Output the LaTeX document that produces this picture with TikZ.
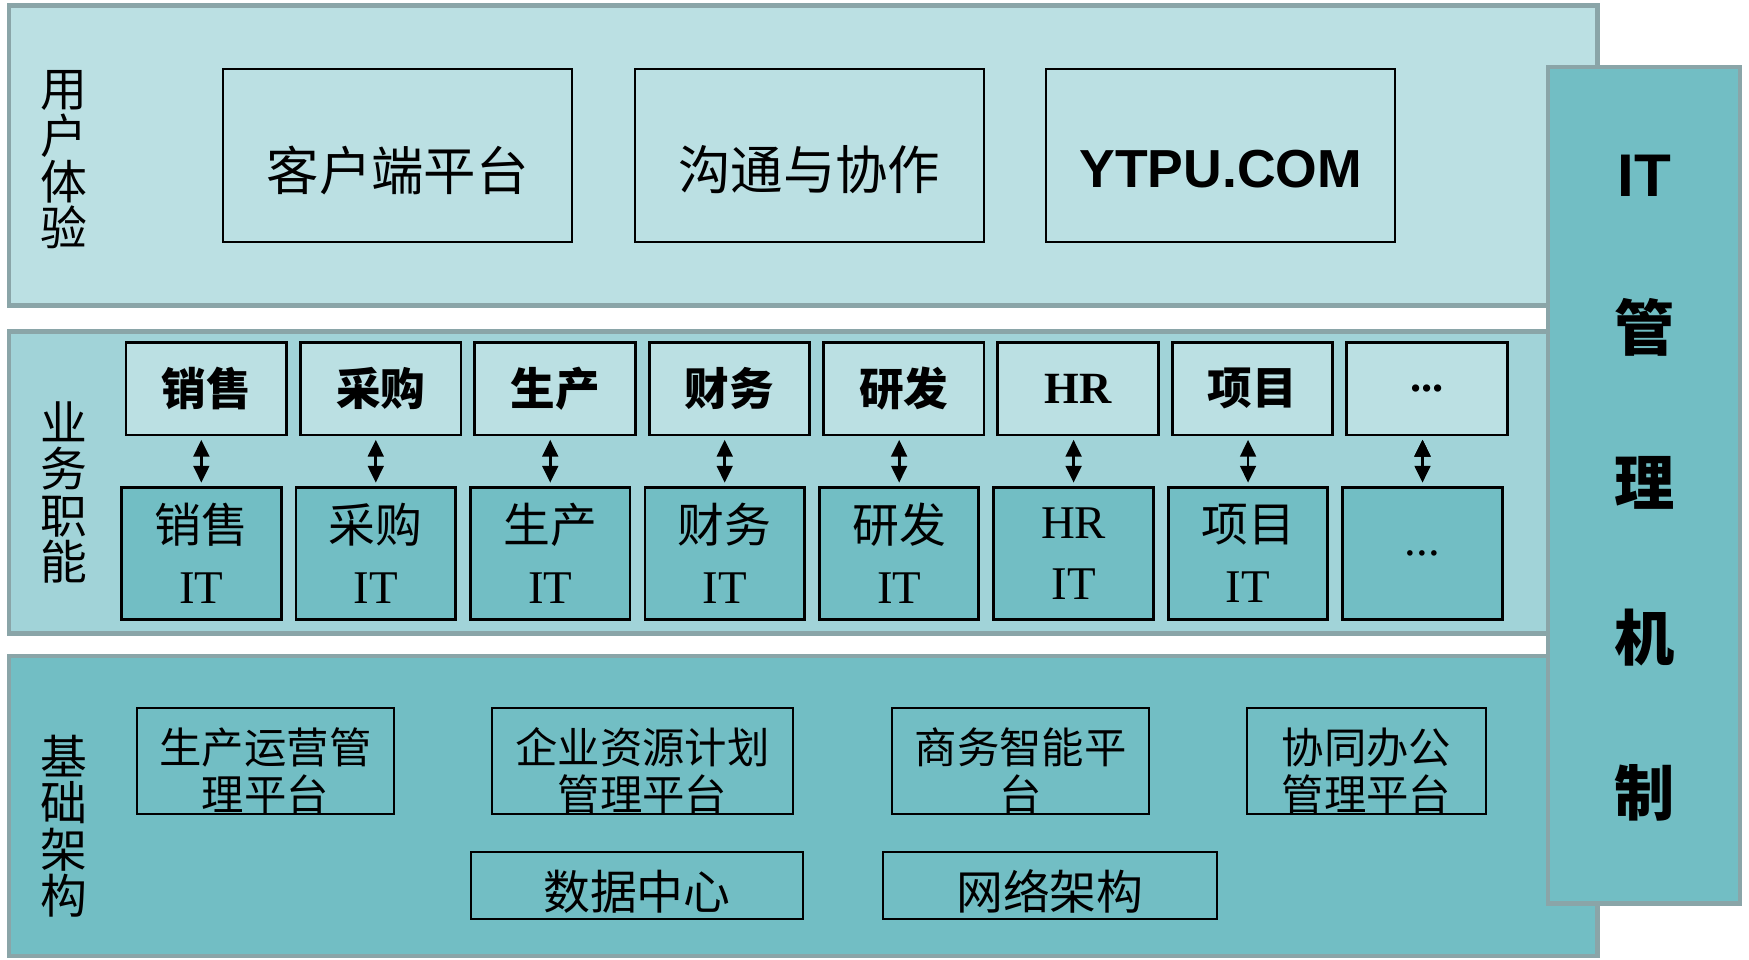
\documentclass[tikz,border=0pt]{standalone}
\usepackage{fontspec}
\setmainfont{Liberation Serif}
\setsansfont{Liberation Sans}
\newfontfamily\cjk{Noto Sans CJK SC}
\usetikzlibrary{positioning, arrows.meta}
\definecolor{palecyan}{HTML}{BBE0E3}
\definecolor{midcyan}{HTML}{A1D3D8}
\definecolor{deepcyan}{HTML}{72BEC4}
\definecolor{framegray}{HTML}{8AA5A8}
\tikzset{
x=0.5pt, y=-0.5pt, % one unit is one pixel of the sketch, y runs downwards
>={Triangle[length=7.5pt, width=7pt]}, % solid arrow heads
band/.style={draw=framegray, line width=2pt, minimum width=712pt}, % the three layers and the side panel
bandlabel/.style={font=\cjk\fontsize{21}{20.8}\selectfont, align=center, inner sep=0pt}, % vertical layer names
portal/.style={draw=black, line width=0.9pt, minimum width=156.5pt, minimum height=77.5pt}, % boxes of the top layer
portaltext/.style={font=\cjk\fontsize{23.5}{26}\selectfont, inner sep=0pt},
func/.style={draw=black, line width=1.3pt, fill=palecyan, minimum width=72pt, minimum height=41.5pt, font=\cjk\bfseries\fontsize{20}{22}\selectfont}, % business functions
funcit/.style={draw=black, line width=1.3pt, fill=deepcyan, minimum width=71.5pt, minimum height=59pt, align=center, inner sep=0pt, font=\cjk\fontsize{21}{27.3}\selectfont}, % their IT
link/.style={<->, line width=1.2pt, shorten <=1.5pt, shorten >=1.5pt},
infrabox/.style={draw=black, line width=0.9pt, minimum height=47.5pt}, % infrastructure platforms
infratext/.style={font=\cjk\fontsize{19}{21}\selectfont, align=center, inner sep=0pt},
paneltext/.style={font=\cjk\bfseries\fontsize{27}{69.4}\selectfont, align=center, inner sep=0pt},
}
\begin{document}
\begin{tikzpicture}
\useasboundingbox (0,0) rectangle (1568,860);
% layers
\node[band, fill=palecyan, minimum height=134.5pt] (ux) at (720,139.5) {};
\node[band, fill=midcyan, minimum height=135.5pt] (biz) at (720,432.5) {};
\node[band, fill=deepcyan, minimum height=134.5pt] (infra) at (720,722.5) {};
\node[band, fill=deepcyan, minimum width=86pt, minimum height=375pt] (itm) at (1474,435) {};
\node[paneltext] (itm-t) at ([yshift=-1.2pt]itm) {{\sffamily IT}\\管\\理\\机\\制};
\node[bandlabel] (ux-l) at (57,143.4) {用\\户\\体\\验};
\node[bandlabel] (biz-l) at (57,441.5) {业\\务\\职\\能};
\node[bandlabel] (infra-l) at (57,740.6) {基\\础\\架\\构};

% user experience
\node[portal] (client) at (356.5,139.5) {};
\node[portal, right=27.1pt of client] (collab) {};
\node[portal, right=27.1pt of collab] (ytpu) {};
\node[portaltext] (client-t) at ([yshift=-6.5pt]client) {客户端平台};
\node[portaltext] (collab-t) at ([yshift=-6.5pt]collab) {沟通与协作};
\node[portaltext, font=\sffamily\bfseries\fontsize{24}{26}\selectfont] (ytpu-t) at ([yshift=-6pt]ytpu) {YTPU.COM};

% business functions
\node[func] (sales) at (185,348.5) {销售};
\node[func, right=4.85pt of sales] (purch) {采购};
\node[func, right=4.85pt of purch] (prod) {生产};
\node[func, right=4.85pt of prod] (fin) {财务};
\node[func, right=4.85pt of fin] (rnd) {研发};
\node[func, right=4.85pt of rnd] (hr) {\rmfamily HR};
\node[func, right=4.85pt of hr] (proj) {项目};
\node[func, right=4.85pt of proj] (more) {\rmfamily ...};
\node[funcit] (sales-it) at (180.5,496) {销售\\{\rmfamily IT}};
\node[funcit, right=5.4pt of sales-it] (purch-it) {采购\\{\rmfamily IT}};
\node[funcit, right=5.4pt of purch-it] (prod-it) {生产\\{\rmfamily IT}};
\node[funcit, right=5.4pt of prod-it] (fin-it) {财务\\{\rmfamily IT}};
\node[funcit, right=5.4pt of fin-it] (rnd-it) {研发\\{\rmfamily IT}};
\node[funcit, right=5.4pt of rnd-it] (hr-it) {{\rmfamily HR}\\{\rmfamily IT}};
\node[funcit, right=5.4pt of hr-it] (proj-it) {项目\\{\rmfamily IT}};
\node[funcit, right=5.4pt of proj-it] (more-it) {\rmfamily ...};
\draw[link] (sales-it.north |- sales.south) edge (sales-it.north)
(purch-it.north |- purch.south) edge (purch-it.north)
(prod-it.north |- prod.south) edge (prod-it.north)
(fin-it.north |- fin.south) edge (fin-it.north)
(rnd-it.north |- rnd.south) edge (rnd-it.north)
(hr-it.north |- hr.south) edge (hr-it.north)
(proj-it.north |- proj.south) edge (proj-it.north)
(more-it.north |- more.south) edge (more-it.north);

% infrastructure
\node[infrabox, minimum width=115pt] (pom) at (238,682.5) {};
\node[infrabox, minimum width=135pt] (erp) at (576,682.5) {};
\node[infrabox, minimum width=115pt] (bi) at (915,682.5) {};
\node[infrabox, minimum width=107pt] (oa) at (1225,682.5) {};
\node[infratext] (pom-t) at ([yshift=-4.25pt]pom) {生产运营管\\理平台};
\node[infratext] (erp-t) at ([yshift=-4.25pt]erp) {企业资源计划\\管理平台};
\node[infratext] (bi-t) at ([yshift=-4.25pt]bi) {商务智能平\\台};
\node[infratext] (oa-t) at ([yshift=-4.25pt]oa) {协同办公\\管理平台};
\node[infrabox, minimum width=149pt, minimum height=30pt] (dc) at (571,794) {};
\node[infrabox, minimum width=149.5pt, minimum height=30pt, right=35pt of dc] (net) {};
\node[infratext, font=\cjk\fontsize{21}{23}\selectfont] (dc-t) at ([yshift=-2.75pt]dc) {数据中心};
\node[infratext, font=\cjk\fontsize{21}{23}\selectfont] (net-t) at ([yshift=-2.75pt]net) {网络架构};
\end{tikzpicture}
\end{document}
